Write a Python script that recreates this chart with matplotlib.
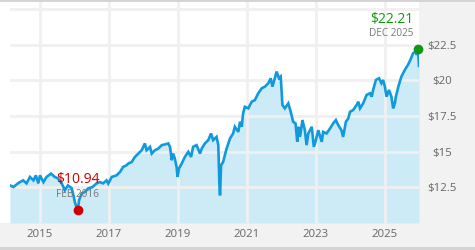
import matplotlib
matplotlib.use("Agg")
import matplotlib.pyplot as plt
from matplotlib.patches import Rectangle

plt.rcParams['font.family'] = ['Open Sans', 'DejaVu Sans']

# ---- data (decimal year, price in $) ----
dates = [2014.13, 2014.23, 2014.37, 2014.51, 2014.61, 2014.71, 2014.81, 2014.88, 2014.95, 2015.00,
         2015.10, 2015.19, 2015.32, 2015.43, 2015.52, 2015.63, 2015.72, 2015.81, 2015.92, 2015.97,
         2016.01, 2016.07, 2016.10, 2016.13, 2016.21, 2016.30, 2016.40, 2016.52, 2016.64, 2016.74,
         2016.83, 2016.93, 2016.98, 2017.08, 2017.22, 2017.32, 2017.41, 2017.51, 2017.56, 2017.66,
         2017.75, 2017.85, 2017.95, 2018.04, 2018.09, 2018.19, 2018.24, 2018.33, 2018.43, 2018.53,
         2018.62, 2018.72, 2018.77, 2018.82, 2018.86, 2018.91, 2018.96, 2018.99, 2019.03, 2019.11,
         2019.20, 2019.30, 2019.38, 2019.44, 2019.54, 2019.64, 2019.69, 2019.78, 2019.88, 2019.96,
         2020.02, 2020.12, 2020.17, 2020.20, 2020.22, 2020.25, 2020.31, 2020.41, 2020.51, 2020.60,
         2020.65, 2020.75, 2020.80, 2020.85, 2020.89, 2020.94, 2021.04, 2021.14, 2021.23, 2021.33,
         2021.43, 2021.52, 2021.62, 2021.69, 2021.74, 2021.81, 2021.86, 2021.93, 2021.98, 2022.03,
         2022.10, 2022.20, 2022.27, 2022.34, 2022.41, 2022.46, 2022.49, 2022.54, 2022.61, 2022.68,
         2022.73, 2022.78, 2022.88, 2022.94, 2023.00, 2023.07, 2023.17, 2023.21, 2023.31, 2023.41,
         2023.50, 2023.58, 2023.65, 2023.74, 2023.79, 2023.87, 2023.94, 2023.99, 2024.08, 2024.18,
         2024.23, 2024.28, 2024.37, 2024.47, 2024.57, 2024.62, 2024.66, 2024.74, 2024.83, 2024.90,
         2024.95, 2025.00, 2025.05, 2025.12, 2025.19, 2025.24, 2025.29, 2025.32, 2025.39, 2025.48,
         2025.58, 2025.67, 2025.74, 2025.82, 2025.89, 2025.93, 2025.96, 2025.99]
prices = [12.64, 12.52, 12.80, 12.99, 12.78, 13.23, 12.99, 13.34, 12.78, 13.34,
          12.87, 13.23, 13.46, 13.23, 13.13, 12.78, 12.29, 12.64, 12.43, 11.94,
          11.47, 11.02, 10.94, 11.58, 12.08, 12.17, 12.43, 12.52, 12.78, 12.87,
          12.78, 12.99, 12.76, 13.23, 13.34, 13.58, 13.93, 14.05, 14.17, 14.28,
          14.63, 14.87, 15.10, 15.58, 15.10, 15.34, 14.87, 15.10, 15.22, 15.46,
          15.51, 15.58, 15.34, 14.40, 14.87, 14.52, 13.93, 13.23, 13.82, 14.17,
          14.63, 14.99, 14.63, 15.34, 15.46, 14.87, 15.22, 15.58, 15.81, 16.28,
          15.81, 16.04, 15.46, 12.87, 11.94, 14.05, 14.28, 15.22, 15.93, 16.28,
          16.75, 16.39, 17.10, 16.75, 17.69, 18.15, 18.04, 18.51, 18.62, 19.10,
          19.45, 19.56, 19.80, 20.15, 19.56, 20.15, 20.62, 20.15, 20.27, 18.27,
          18.04, 18.39, 17.80, 17.10, 16.98, 15.69, 16.75, 16.04, 17.22, 16.51,
          15.46, 16.28, 16.75, 15.34, 15.81, 16.51, 15.69, 16.39, 16.28, 16.63,
          16.98, 17.22, 16.86, 16.51, 16.04, 17.10, 17.34, 17.80, 17.92, 18.27,
          18.51, 18.04, 18.39, 18.98, 19.10, 18.86, 19.33, 20.03, 20.15, 19.80,
          20.03, 19.56, 18.86, 19.33, 18.86, 18.04, 18.39, 18.86, 19.56, 20.27,
          20.74, 21.09, 21.44, 21.91, 22.03, 21.79, 22.21, 21.02]

low_date, low_price, low_label = 2016.10, 10.94, "FEB 2016"
high_date, high_price, high_label = 2025.96, 22.21, "DEC 2025"

year_ticks = [2015, 2017, 2019, 2021, 2023, 2025]
price_ticks = [12.5, 15, 17.5, 20, 22.5]
price_labels = ["$12.5", "$15", "$17.5", "$20", "$22.5"]

LINE = "#1199dd"
FILL = "#cdeaf7"
GRID = "#f0f0f0"
PANEL = "#f2f2f2"
TXT = "#666666"

fig = plt.figure(figsize=(4.75, 2.5), dpi=100)
fig.patch.set_facecolor("white")

W, H = 475.0, 250.0
# background panels (figure coords), drawn beneath everything
bg = [
    ((0, 3 / H), 1, (250 - 223 - 3) / H, PANEL),
    ((419 / W, 3 / H), (W - 419) / W, (250 - 5) / H, PANEL),
    ((0, 0), 1, 3 / H, "#d4d4d4"),
    ((0, 1 - 2 / H), 1, 2 / H, "#d4d4d4"),
]
for xy, w, h, c in bg:
    fig.patches.append(Rectangle(xy, w, h, transform=fig.transFigure,
                                 facecolor=c, edgecolor="none", zorder=-10))

ax = fig.add_axes([10 / W, 1 - 223 / H, (419 - 10) / W, (223 - 2) / H])
ax.set_zorder(1)
ax.set_facecolor("white")
for s in ax.spines.values():
    s.set_visible(False)

ax.set_xlim(2014.13, 2025.99)
ax.set_ylim(10.0, 25.5)

ax.fill_between(dates, prices, 10.0, color=FILL, lw=0, zorder=1)
for yt in price_ticks + [25]:
    ax.axhline(yt, color=GRID, lw=2.0, zorder=2)
for xt in year_ticks:
    ax.axvline(xt, color=GRID, lw=2.0, zorder=2)
ax.plot(dates, prices, color=LINE, lw=1.9, zorder=3, solid_joinstyle="miter")

ax.yaxis.tick_right()
ax.set_yticks(price_ticks)
ax.set_yticklabels(price_labels)
ax.set_xticks(year_ticks)
ax.set_xticklabels([str(y) for y in year_ticks])
ax.tick_params(axis="both", length=0, labelsize=8.2, labelcolor=TXT)
ax.tick_params(axis="y", pad=16.5)
ax.tick_params(axis="x", pad=4.5)
for lab in ax.get_yticklabels():
    lab.set_horizontalalignment("center")

# markers and labels
ax.plot([low_date], [low_price], "o", color="#cc0000", ms=6, zorder=5, clip_on=False)
ax.plot([high_date], [high_price], "o", color="#119911", ms=6, zorder=5, clip_on=False)

ax.annotate(f"${low_price:.2f}", (low_date, low_price), xytext=(0, 21.5), textcoords="offset points",
            ha="center", va="center", color="#cc0000", fontsize=10, zorder=6)
ax.annotate(low_label, (low_date, low_price), xytext=(0, 10.8), textcoords="offset points",
            ha="center", va="center", color="#777777", fontsize=7.2, zorder=6)
ax.annotate(f"${high_price:.2f}", (high_date, high_price), xytext=(-3, 21), textcoords="offset points",
            ha="right", va="center", color="#119911", fontsize=10, zorder=6)
ax.annotate(high_label, (high_date, high_price), xytext=(-3, 11), textcoords="offset points",
            ha="right", va="center", color="#777777", fontsize=7.2, zorder=6)

fig.savefig("out.png", dpi=100, facecolor=fig.get_facecolor())
